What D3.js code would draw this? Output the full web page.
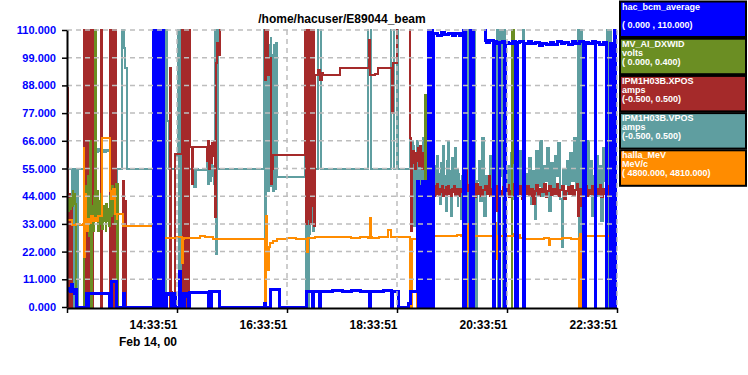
<!DOCTYPE html>
<html>
<head>
<meta charset="utf-8">
<script src="https://cdn.jsdelivr.net/npm/d3@7"></script>
<style>
body { margin: 0; background: #fff; }
text { font-family: "Liberation Sans", Arial, sans-serif; font-weight: bold; }
</style>
</head>
<body>
<div id="chart"></div>
<script>
// time in minutes after Feb 14 2000 12:33:51, value in display units (0..110)
const hacBcm = [
  [0,6.5],[2,7.2],[3.5,6],[5,9],[6.5,7],[8,5.5],[9.5,7],[10.9,0],
  [21.8,5.5],[22.5,0],[23.5,5.5],[46.9,0],[49,10.3],[54.5,0],[61.5,5.5],[63,0],
  [94,130],[95,-20],[96,130],[97,-20],[98,130],[99,-20],[100,130],[101,-20],[102.6,130],[103.6,-20],[104.6,130],[105.6,0],
  [108,5.5],[110,4.8],[112,5.5],[114,0],[116,5.2],[118,0],[123,14],[124,0],
  [126,5.5],[127,0],[128,5.5],[130,4],[131,5.5],[133,0],[134,5.8],[154,0],[155,6],[157,0],[158,6],[166,0],
  [215,1.5],[217,0],[221.5,7],[232,0],
  [261.8,6],[267.5,0],[268.5,6],[275.5,0],[276.5,6.2],[290,6.5],[300,6],[310,6.4],[320,6.1],[330,0],[331.5,6.2],[345,6.5],[353.5,0],[355,6.2],[361.5,0],
  [373,1.5],[375,6],[382,50],[383,0],[384,48],[385,0],[386,44],[387,0],[388,50],[389,0],[390,45],[391,0],[392,50],[393,0],
  [394,130],[395,-20],[396,130],[397,-20],[398,130],[399,-20],
  [400,108.5],[404,108],[408,109],[412,108.2],[416,108.8],[420,107.8],[424,108.5],[428,108],[431,108.6],
  [432,-20],[433,130],[434,-20],[435,130],[440,-20],[441,130],[442,-20],[443.5,130],
  [456,106],[458,105],[461,105.8],[465.8,-20],[466.8,105.5],[469,104.5],[471.3,-20],[472.3,105],[475,105.6],[477.8,-20],[478.4,105],
  [482,104.8],[486,105.5],[489,-20],[491.5,105],[494,105.3],[498.5,-20],[499.5,104.8],[503,105.6],[507,104.5],[511,105.2],
  [515,104],[519,104.6],[523,104.2],[527,105],[531,104.3],[535,105.4],[539,104.6],[543,105],[547,104.2],[551,105.3],[555,104.7],
  [559,105.5],[563,-20],[565.5,105],[569,104.5],[573,105.3],[576,-20],[577,105],[581,104.4],[585,105.2],[588.5,-20],[592.5,104.8],
  [595.5,-20],[597,130],[598,-20],[600,-20]
];

const mvDxwid = [
  [0,41],[1,38],[2,43],[3,39],[4,44],[5,40],[6,46],[7,42],[8,45],[9,41],[10,-20],
  [18,-20],[19,45],[20,30],[21,48],[22,32],[23,52],[24.5,28],[25,66],[26,-20],[27,40],[28,30],[29,44],[30.5,130],
  [31.5,42],[32,36],[33,46],[34,30],[35,42],[36,33],[37,45],[38,31],[39,40],[40,34],[41,38],[42,30],[43,41],[44,34],
  [45,39],[46,32],[47,44],[48,36],[49,48],[50,37],[51,45],[52,33],[53,49],[54,-20],[55,49],[56,-20],
  [381.5,43],[382.5,-20],[391,84],[392,-20],[393,80],[394,-20],
  [485,130],[486.5,57],[487.5,130],[600,130]
];

const ipmXpos = [
  [0,87],[1,-20],[2,45],[3,-20],[4,40],[5,-20],
  [18.5,130],[19.5,-20],[20.5,130],[21.5,-20],[22.5,130],[23.5,-20],[24.5,130],[25.5,-20],[26.5,130],[27.5,-20],[28.4,130],
  [36.8,-20],[38,130],
  [47,-20],[48,130],[49,-20],[50,130],[51,-20],[52,130],[53,-20],[54.5,-20],
  [61,50],[62,-20],[63,42],[64.5,-20],
  [95,70],[96,-20],[101.5,99],[102.5,46],[103.5,-20],[112,95],[113,6],[114,-20],[117.5,60.6],
  [125,130],[126,-20],[127,130],[128,-20],[129,130],[130,-20],[131,130],[132,-20],[133,130],
  [134.2,63.5],[136.5,49],[137.5,63.5],
  [153,58],[154,66],[155,55],[156,64],[157,57],[158,65],[159,60],[160,66],[161.5,35.6],[162.5,97],[163.5,105],[165,100],[166.5,130],
  [216,90],[217.5,130],[219,92],[221,99],[222,49],[223.5,55],[225,60.4],
  [260,130],[261,33],[262,130],[263,35],[264,130],[265,33],[266,130],[267,40],[268,130],[269,32],[270.5,92.2],
  [274,94],[276,90],[278,93],[279,92.2],[297,92.2],[298,95],[328,94.8],[329,106],[330,93.8],[331,92.3],[336,92.5],[339,94.8],
  [354.5,95],[355,77],[356,97],[360.5,130],
  [374,67],[375,30],[376,60],[377,62],[378,57],[379,60],[380,55],[381,61],[382,58],[383,63],[384,56],[385,64],[386,59],
  [387,55],[388,61],[389,57],[390,66],[391,54],[392,60],[393,56],[394,62],[395,58],[396,72],[397,-20],[398,48],
  [399,46],[400,48],[401,44],[402,47],[403,45],[404,49],[405,46],[406,44],[407,47],[408,45.5],[409,48],[410,44],
  [411,46.5],[412,45],[413,47.5],[414,44.5],[415,46],[416,48],[417,45],[418,46.5],[419,44],[420,47],[421,45.5],
  [422,48],[423,44.5],[424,46],[425,47],[426,45],[427,46.5],[428,44],[429,47],[430,45.5],[431,46],
  [432,62],[433,33],[434,55],
  [436,46],[438,48.5],[440,44],[442,47],[444,43.5],[446,49],[448,45],[450,47.5],[452,44],[454,46.5],[456,48],[458,45],
  [460,52],[461,44],[463,47],[465,45.5],[467,48],[469,38],[471,34],[472,46],[474,44],[476,47.5],[478,45],[480,48.5],
  [482,43.5],[484,46],[486,49],[488,44.5],[490,47],[492,45],[494,48],[496,43],[498,46.5],[500,45],[502,48],[504,44],
  [506,47],[508,41],[510,46],[512,48.5],[514,44],[516,47],[518,45.5],[520,49],[522,43.5],[524,46],[526,48],[528,44.5],
  [530,47],[532,45],[534,49],[536,44],[538,46.5],[540,48],[542,43],[544,46],[546,47.5],[548,45],[550,48],[552,44],
  [554,46.5],[556,49],[557.5,36],[559,47],[561,40],[563,45],[565,48],[567,44],[569,46.5],[571,45],[573,48],[575,44],
  [576,39],[577,47],[579,45],[581,48.5],[583,43.5],[585,47],[587,45],[589,48],[591,44],[593,46.5],[595,80],[596,55],
  [597,70],[598,46],[600,46]
];

const ipmVpos = [
  [0,47],[1,55],[5,55],[5.5,-20],[6.5,55],[7.5,-20],[8.5,55],[9.5,-20],[10.5,55],[11.5,-20],[12.3,55],
  [19,107],[20,86],[21,100],[22,55],[23,62],[24.5,30],[25.5,61.5],[28,61],[30,62.5],[32,61.5],[34,62.8],[36,61.8],
  [38,62.5],[40,61.5],[42,62.3],[44,61.8],[46,62.5],
  [47,92],[48.5,55],[50,130],[51,55],[53,-20],[54,55],[60.5,130],[62,103],[63.5,95],[65,55],
  [94,20],[95,-20],[96,60],[98,55],[106,130],[107,-20],[108,130],[109,73.8],[111,55],[118,60],
  [121,130],[122,-20],[123,130],[124,-20],[125,130],[126.5,55],[139,47.5],[141,55],[143,54.4],
  [153,60],[154,49],[155,58],[156,50],[157,57],[158,52],[159,56],[160,49],[161.5,130],[162.5,21],[163.5,110],[165,55],
  [214.9,130],[216,-20],[217,55],[218,107],[219,46],[220,104],[221,48],[222,107],[223,50],[224,100],[225,46],
  [226,104],[227,47],[228,105],[229,51.6],
  [259.6,130],[260.5,-20],[261.5,130],[262.5,-20],[263.5,130],[264.5,29],[265.5,55],[266.5,33],[267.5,50],[268.5,30],
  [269.5,45],[270.5,55],[274,130],[277.5,55],[328.5,130],[331.5,55],[353.5,130],[357,55],[360,130],[361,55],
  [374,67],[375,35],[376,66],[377,40],[378,64],[379,32],[380,60],[381,38],[382,66],[383,45],[384,62],[385,30],
  [386,58],[387,42],[388,67],[389,36],[390,60],[391,44],[392,66],[393,30],[394,57],[395,38],[396,62],[397,46],[398,55],
  [399,50],[400,47],[401,56],[402,45],[403,52],[404,60],[405,46],[406,53],[407,41],[408,57],[409,48],[410,64],
  [411,44],[412,52],[413,38],[414,58],[415,49],[416,66],[417,45],[418,54],[419,36],[420,59],[421,47],[422,51],
  [423,63],[424,44],[425,55],[426,40],[427,53],[428,46],[429,50],[430,35],[431,52],
  [432,130],[433.5,-20],[435,130],[436.5,-20],[438,130],[439.5,-20],[441,130],[442.5,-20],[444,130],[445.5,-20],
  [447,50],[449,58],[451,42],[453,67],[455,36],[457,52],[459,47],[461,60],[463,44],[465,55],[467,49],
  [469,130],[470,-20],[471,130],[472,52],[474.5,130],[475.5,-20],[476.5,130],[478,48],
  [480,56],[482,45],[484,61],[486,50],[488,43],[490,57],[492,49],[494,62],[496,46],[497.5,130],[499,-20],[500,53],
  [502,47],[504,59],[506,41],[508,54],[510,35],[512,62],[514,48],[516,66],[518,44],[520,56],[522,50],[524,63],
  [526,38],[528,57],[530,46],[532,60],[534,52],[536,65],[538,43],[540,24],[541,55],[543,49],[545,58],[547,45],
  [549,61],[551,50],[553,67],[555,47],[557.5,130],[559,-20],[560.5,130],[562,-20],[563,54],
  [565,48],[567,66],[569,45],[571,58],[573,36],[575,52],[577,60],[579,44],[581,56],[583,34],[585,63],[587,50],
  [589,130],[590.5,-20],[592,130],[593.5,-20],[594.5,55],[596,48],[597.5,130],[599,-20],[600,-20]
];

const hallaMeV = [
  [0,34.5],[5,32.5],[10,33],[14,32.5],[17.5,33],[18,63],[19,20],[20,45],[21,30],[22.5,35],[24,33.5],[26,36],[28,34],
  [30,35.5],[32,34],[34,36],[37.8,67],[46.9,46],[48.5,43],[50,47],[52,37],[54,35],[55,37],[61,32],[93,32],
  [94,24.5],[96,31],[97,23.5],[99,25],[101,26],[103,25.3],[104,29.5],[106,27.5],[120,27.7],[125.5,17.5],[127,27],
  [128,27.4],[145,28],[150,27.6],[159,27],[175,27.2],[190,26.9],[205,27.1],
  [214.9,27],[216,-20],[217,36],[218,21],[219,14.5],[220,24],[221.5,25.5],[224.7,26.3],[229,27.2],[240,27.4],[250,27.2],
  [261.8,22],[263,27.5],[270,27.7],[280,27.8],[290,27.6],[300,27.8],[310,27.4],[320,27.7],[328,27.5],[330,35.5],
  [331.5,27.9],[333,27.5],[340,27.6],[349,27.8],[350,30.5],[353,27.7],[360,27.6],[370,27.8],[374,-20],[376.5,27],
  [381.5,-20],[382.5,30],[383.5,27.5],[385,28],[395,28.3],[405,28.2],[415,28.3],[425,28.4],[430,28.2],[432,27],
  [433,37],[434,-20],[436,33],[437,22],[439,33],[441,28.3],[465,28.3],[466,21],[467,33.5],[468,27],[469,19],[470,28],
  [474,28.2],[477,23.5],[478,28],[485,28.1],[488,29],[491,28.5],[494,27.5],[500,27.2],[510,27.2],[520,27.3],
  [526,24.5],[527,27.2],[540,27.3],[550,27.1],[558,27.3],[558.5,-20],[559.5,29],[560.5,-20],[561.5,29],[562.5,-20],
  [563.5,29],[564.5,-20],[566,28],[575.5,34],[576.5,15],[577.5,28],[590,28],[600,28]
];

const legendNames  = ["hac_bcm_average", "MV_AI_DXWID", "IPM1H03B.XPOS", "IPM1H03B.VPOS", "halla_MeV"];
const legendUnits  = ["", "volts", "amps", "amps", "MeV/c"];
const legendRanges = ["( 0.000 , 110.000)", "( 0.000, 0.400)", "(-0.500, 0.500)", "(-0.500, 0.500)", "( 4800.000, 4810.000)"];
const legendColors = ["#0000ff", "#6b8e23", "#a52a2a", "#5f9ea0", "#ff8c00"];

const yTicks = [0, 11, 22, 33, 44, 55, 66, 77, 88, 99, 110];
const xTickMinutes = [0, 120, 240, 360, 480, 600];

const title = "/home/hacuser/E89044_beam";
const dateLabel = "Feb 14, 00";

const t0 = new Date(2000, 1, 14, 12, 33, 51);
const toDate = m => new Date(t0.getTime() + m * 60000);

const svg = d3.select("#chart").append("svg")
  .attr("width", 748)
  .attr("height", 375);

svg.append("rect").attr("width", 748).attr("height", 375).attr("fill", "#fff");

const x = d3.scaleTime().domain([t0, toDate(600)]).range([67, 617]);
const y = d3.scaleLinear().domain([0, 110]).range([307, 30]);

svg.append("clipPath").attr("id", "plot")
  .append("rect").attr("x", 67).attr("y", 29).attr("width", 550).attr("height", 279);

const line = d3.line()
  .x(d => x(toDate(d[0])))
  .y(d => y(d[1]))
  .curve(d3.curveStepAfter);

const plot = svg.append("g").attr("clip-path", "url(#plot)");

// draw order: VPOS under, beam current on top
const series = [
  { data: ipmVpos, color: "#5f9ea0", w: 2 },
  { data: ipmXpos, color: "#a52a2a", w: 2 },
  { data: mvDxwid, color: "#6b8e23", w: 2 },
  { data: hallaMeV, color: "#ff8c00", w: 2 },
  { data: hacBcm, color: "#0000ff", w: 3 }
];

series.forEach(s => {
  plot.append("path")
    .datum(s.data)
    .attr("d", line)
    .attr("fill", "none")
    .attr("stroke", s.color)
    .attr("stroke-width", s.w)
    .attr("shape-rendering", "crispEdges");
});

// dashed grid sits over the traces
const grid = svg.append("g")
  .attr("stroke", "#bdbdbd")
  .attr("stroke-width", 1.5)
  .attr("stroke-dasharray", "5,4");

grid.selectAll(".h").data(yTicks.filter(d => d > 0)).join("line")
  .attr("x1", 67).attr("x2", 617)
  .attr("y1", d => y(d)).attr("y2", d => y(d));

grid.selectAll(".v").data(xTickMinutes.filter(d => d > 0)).join("line")
  .attr("x1", d => x(toDate(d))).attr("x2", d => x(toDate(d)))
  .attr("y1", 30).attr("y2", 307);

// y axis
const yAxis = svg.append("g")
  .attr("transform", "translate(67,0)")
  .call(d3.axisLeft(y).tickValues(yTicks).tickFormat(d3.format(".3f")).tickSize(5).tickSizeOuter(0).tickPadding(6));
yAxis.select(".domain").attr("stroke", "#000").attr("stroke-width", 2);
yAxis.selectAll(".tick line").attr("stroke", "#000").attr("stroke-width", 1.5);
yAxis.selectAll(".tick text")
  .attr("fill", "#0000ff")
  .style("font-size", "11px")
  .style("font-family", "'Liberation Sans', Arial, sans-serif")
  .style("font-weight", "bold");

// x axis
const xAxis = svg.append("g")
  .attr("transform", "translate(0,308)")
  .call(d3.axisBottom(x)
    .tickValues(xTickMinutes.map(toDate))
    .tickFormat(d => +d === +t0 ? "" : d3.timeFormat("%H:%M:%S")(d))
    .tickSize(5).tickSizeOuter(0));
xAxis.select(".domain").attr("stroke", "#000").attr("stroke-width", 2);
xAxis.selectAll(".tick line").attr("stroke", "#000").attr("stroke-width", 1.5);
xAxis.selectAll(".tick text")
  .attr("fill", "#000")
  .attr("text-anchor", "end")
  .attr("y", 12)
  .style("font-size", "12px")
  .style("font-family", "'Liberation Sans', Arial, sans-serif")
  .style("font-weight", "bold");

svg.append("text")
  .attr("x", x(toDate(120)))
  .attr("y", 346)
  .attr("text-anchor", "end")
  .style("font-size", "12px")
  .text(dateLabel);

svg.append("text")
  .attr("x", 342)
  .attr("y", 23)
  .attr("text-anchor", "middle")
  .style("font-size", "12px")
  .text(title);

// legend boxes on the right
const legend = svg.append("g").attr("transform", "translate(620,0)");
legendNames.forEach((name, i) => {
  const top = 1.5 + i * 37.2;
  const g = legend.append("g").attr("transform", `translate(0,${top})`);
  g.append("rect")
    .attr("width", 126)
    .attr("height", 35.5)
    .attr("fill", legendColors[i])
    .attr("stroke", "#000")
    .attr("stroke-width", 2);
  [name, legendUnits[i], legendRanges[i]].forEach((t, j) => {
    g.append("text")
      .attr("x", 2)
      .attr("y", 8 + j * 9)
      .attr("fill", "#fff")
      .style("font-size", "9px")
      .text(t);
  });
});
</script>
</body>
</html>
